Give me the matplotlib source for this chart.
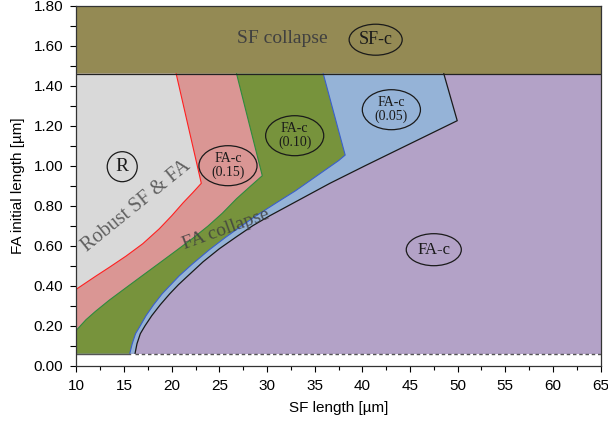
import matplotlib
matplotlib.use("Agg")
import matplotlib.pyplot as plt
from matplotlib.patches import Polygon, Ellipse, Rectangle
from matplotlib.ticker import MultipleLocator, FormatStrFormatter

plt.rcParams['font.family'] = ['Liberation Sans', 'DejaVu Sans']

# axis range
x_min, x_max = 10, 65
y_min, y_max = 0.0, 1.80

# horizontal limits of the phase diagram
sf_collapse_y = 1.46   # above: SF collapse
fa_min_y = 0.06        # below: no data

# boundary R / FA-c(0.15)  (red)
red_x = [10, 11, 12, 13.45, 15.2, 16.96, 18.7, 20.0, 21.2, 22.2, 23.1, 20.46]
red_y = [0.383, 0.415, 0.447, 0.492, 0.548, 0.61, 0.685, 0.75, 0.815, 0.865, 0.912, 1.46]

# boundary FA-c(0.15) / FA-c(0.10)  (green)
green_x = [10, 11, 12, 13.45, 15.2, 16.96, 18.7, 20.46, 22.2, 23.8, 25.3, 26.8, 28.2, 29.5, 26.8]
green_y = [0.178, 0.23, 0.272, 0.328, 0.39, 0.452, 0.513, 0.575, 0.637, 0.698, 0.762,
           0.835, 0.895, 0.95, 1.46]

# boundary FA-c(0.10) / FA-c(0.05)  (blue)
blue_x = [15.6, 15.85, 16.2, 16.7, 17.3, 18.1, 19.0, 19.9, 20.8, 22.2, 23.9, 25.6,
          27.2, 28.8, 31.0, 33.0, 35.1, 37.5, 38.2, 35.9]
blue_y = [0.062, 0.11, 0.16, 0.2, 0.25, 0.305, 0.36, 0.405, 0.45, 0.51, 0.578, 0.64,
          0.695, 0.748, 0.815, 0.875, 0.945, 1.025, 1.053, 1.46]

# boundary FA-c(0.05) / FA-c  (black)
black_x = [16.15, 16.35, 16.7, 17.2, 17.9, 18.8, 19.8, 20.7, 21.6, 23.3, 25.0, 26.8,
           28.5, 30.3, 33.8, 36.6, 40.3, 49.96, 48.55]
black_y = [0.062, 0.11, 0.16, 0.2, 0.25, 0.305, 0.36, 0.405, 0.445, 0.52, 0.585, 0.645,
           0.70, 0.75, 0.84, 0.912, 1.0, 1.225, 1.46]

c_olive = '#948a54'
c_grey = '#d9d9d9'
c_pink = '#da9694'
c_green = '#77933c'
c_blue = '#95b3d7'
c_purple = '#b3a2c7'


def left_region(xs, ys):
    """polygon between the left axis, the top limit and a boundary"""
    pts = list(zip(xs, ys))
    pts.append((x_min, sf_collapse_y))
    pts.append((x_min, ys[0] if xs[0] == x_min else fa_min_y))
    if xs[0] != x_min:
        pts.append((xs[0], fa_min_y))
    return pts


fig = plt.figure(figsize=(6.08, 4.23), dpi=100)
ax = fig.add_axes([0.1258, 0.1355, 0.8619, 0.851])

# regions, back to front
ax.add_patch(Rectangle((x_min, sf_collapse_y), x_max - x_min, y_max - sf_collapse_y,
                       facecolor=c_olive, edgecolor='none', zorder=1))
ax.add_patch(Rectangle((x_min, fa_min_y), x_max - x_min, sf_collapse_y - fa_min_y,
                       facecolor=c_purple, edgecolor='none', zorder=1))
ax.add_patch(Polygon(left_region(black_x, black_y), closed=True,
                     facecolor=c_blue, edgecolor='none', zorder=2))
ax.add_patch(Polygon(left_region(blue_x, blue_y), closed=True,
                     facecolor=c_green, edgecolor='none', zorder=3))
ax.add_patch(Polygon(left_region(green_x, green_y), closed=True,
                     facecolor=c_pink, edgecolor='none', zorder=4))
ax.add_patch(Polygon(left_region(red_x, red_y), closed=True,
                     facecolor=c_grey, edgecolor='none', zorder=5))

# boundary lines
ax.plot(red_x, red_y, color='#ff2020', lw=0.8, zorder=6)
ax.plot(green_x, green_y, color='#2e8b3e', lw=0.8, zorder=6)
ax.plot(blue_x, blue_y, color='#3a5fcd', lw=0.8, zorder=6)
ax.plot(black_x, black_y, color='#1a1a1a', lw=0.9, zorder=6)
ax.plot([x_min, x_max], [sf_collapse_y, sf_collapse_y], color='#222222', lw=0.9, zorder=6)
ax.plot([x_min, blue_x[0]], [fa_min_y, fa_min_y], color='#555555', lw=1.0, zorder=6)
ax.plot([black_x[0], x_max], [fa_min_y, fa_min_y], color='#555555', lw=1.0,
        ls=(0, (2.5, 2)), zorder=6)

# labels
serif = ['Liberation Serif', 'DejaVu Serif']
txt_grey = '#404040'
ax.text(31.65, 1.635, 'SF collapse', family=serif, fontsize=14, color=txt_grey,
        ha='center', va='center', zorder=8)
ax.text(16.3, 0.795, 'Robust SF & FA', family=serif, fontsize=14.5, color='#606060',
        ha='center', va='center', rotation=39, zorder=8)
ax.text(25.7, 0.68, 'FA collapse', family=serif, fontsize=14, color=txt_grey,
        ha='center', va='center', rotation=20, alpha=0.85, zorder=8)

bubbles = [
    ('R', 14.8, 0.995, 3.15, 0.15, 14),
    ('SF-c', 41.4, 1.63, 5.57, 0.155, 13),
    ('FA-c\n(0.15)', 25.9, 1.0, 6.1, 0.20, 10),
    ('FA-c\n(0.10)', 32.9, 1.15, 6.1, 0.20, 10),
    ('FA-c\n(0.05)', 43.05, 1.28, 6.1, 0.20, 10),
    ('FA-c', 47.5, 0.58, 5.78, 0.16, 12),
]
for label, bx, by, bw, bh, fs in bubbles:
    ax.add_patch(Ellipse((bx, by), bw, bh, facecolor='none', edgecolor='#1a1a1a',
                         lw=0.9, zorder=8))
    ax.text(bx, by, label, family=serif, fontsize=fs, color='#1a1a1a',
            ha='center', va='center', linespacing=1.1, zorder=9)

ax.set_xlim(x_min, x_max)
ax.set_ylim(y_min, y_max)
ax.xaxis.set_major_locator(MultipleLocator(5))
ax.xaxis.set_minor_locator(MultipleLocator(2.5))
ax.yaxis.set_major_locator(MultipleLocator(0.2))
ax.yaxis.set_minor_locator(MultipleLocator(0.1))
ax.yaxis.set_major_formatter(FormatStrFormatter('%.2f'))
ax.tick_params(axis='both', which='major', direction='out', length=4.5, width=0.8,
               labelsize=11, pad=5)
ax.tick_params(axis='y', which='minor', direction='out', length=4.5, width=0.8)
ax.tick_params(axis='x', which='minor', direction='out', length=3, width=0.8)
for sp in ax.spines.values():
    sp.set_linewidth(0.9)
    sp.set_color('#333333')
    sp.set_zorder(10)

ax.set_xlabel('SF length [µm]', fontsize=11, labelpad=6)
ax.set_ylabel('FA initial length [µm]', fontsize=11, labelpad=6)

fig.savefig('out.png', dpi=100)
